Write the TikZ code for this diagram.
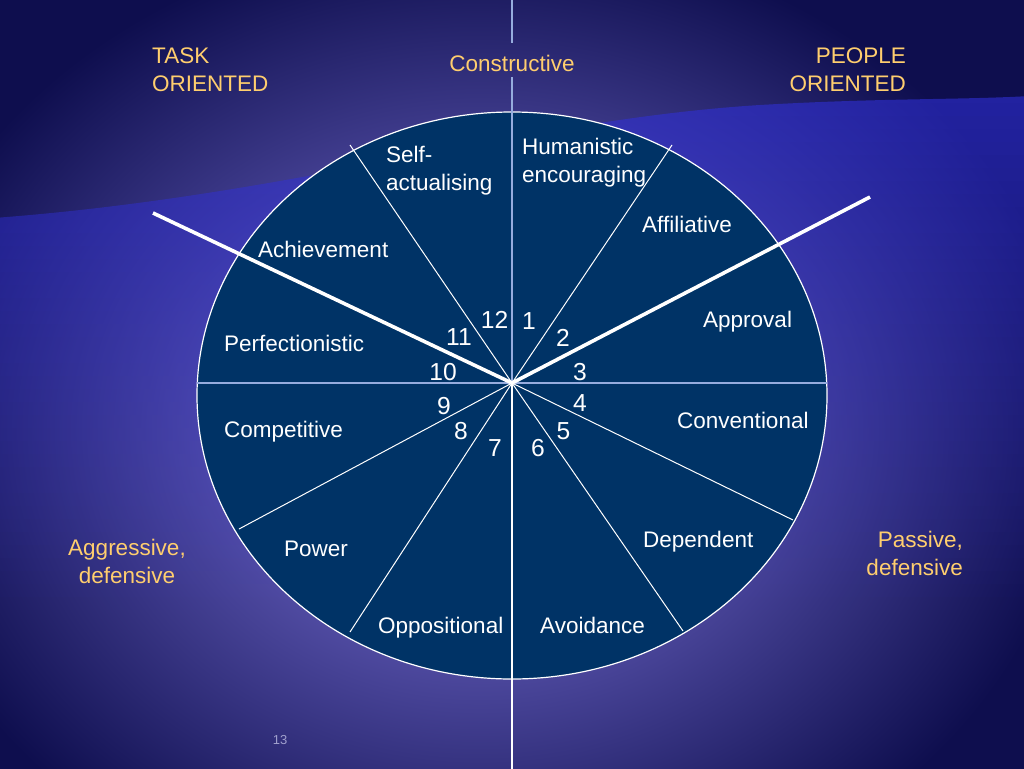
\documentclass[tikz,border=0pt]{standalone}
\usepackage{fontspec}
\setmainfont{Liberation Sans}
\definecolor{bgdark}{RGB}{14,14,78}
\definecolor{bglight}{RGB}{96,90,182}
\definecolor{wave}{RGB}{48,48,215}
\definecolor{wheel}{RGB}{0,51,102}
\definecolor{gold}{RGB}{255,206,110}
\definecolor{axis}{RGB}{150,172,222}
\definecolor{pagenum}{RGB}{160,160,205}
\pgfdeclareradialshading{bgrad}{\pgfpointorigin}{color(0bp)=(bglight); color(8bp)=(bglight); color(25bp)=(bgdark); color(50bp)=(bgdark)}
\begin{document}
\begin{tikzpicture}[x=1pt,y=-1pt,
  lbl/.style={text=white, inner sep=0pt, font=\fontsize{22.5}{28}\selectfont},
  num/.style={text=white, inner sep=0pt, font=\fontsize{24.6}{29}\selectfont},
  cat/.style={text=gold, inner sep=0pt, font=\fontsize{22.5}{28}\selectfont},
  spoke/.style={draw=white, line width=1pt},
  thickspoke/.style={draw=white, line width=3.6pt, line join=round},
  axisline/.style={draw=axis, line width=1.8pt},
  lowaxis/.style={draw=white, line width=2.6pt},
  rim/.style={draw=white, line width=1.2pt},
]
\useasboundingbox (0,0) rectangle (1024,768);
% background (slightly oversized so no edge strip remains)
\fill[bgdark] (-6,-6) rectangle (1030,774);
\begin{scope}
  \clip (-6,-6) rectangle (1030,774);
  \shade[shading=bgrad] (480,430) ellipse (600pt and 500pt);
\end{scope}
% wave band, fading downwards
\begin{scope}
  \clip (-6,218) .. controls (300,195) and (520,120) .. (760,105) .. controls (880,98) and (960,100) .. (1030,96) -- (1030,774) -- (-6,774) -- cycle;
  \foreach \i in {0,...,39} {
    \pgfmathsetmacro{\op}{0.6*(1-\i/40)}
    \fill[wave, fill opacity=\op] (-6,{90+\i*13}) rectangle (1030,{90+(\i+1)*13});
  }
\end{scope}
% wheel
\fill[wheel] (512,395.5) ellipse (315pt and 283.5pt);
% coordinates
\coordinate (O) at (512,383);
\coordinate (L) at (197,383);
\coordinate (R) at (827,383);
\coordinate (Vtop) at (512,-6);
\coordinate (VgapA) at (512,43);
\coordinate (VgapB) at (512,77);
\coordinate (Vbot) at (512,774);
\coordinate (TL) at (153,213);
\coordinate (TR) at (870,197);
\coordinate (sUL) at (350,145);
\coordinate (sUR) at (672,145);
\coordinate (sLL) at (239,529);
\coordinate (sBL) at (350,632);
\coordinate (sBR) at (683,631);
\coordinate (sLR) at (793,520);
% spokes
\draw[spoke] (O) -- (sUL);
\draw[spoke] (O) -- (sUR);
\draw[spoke] (O) -- (sLL);
\draw[spoke] (O) -- (sBL);
\draw[spoke] (O) -- (sBR);
\draw[spoke] (O) -- (sLR);
\draw[rim] (512,395.5) ellipse (315pt and 283.5pt);
\draw[axisline] (L) -- (R);
\draw[axisline] (Vtop) -- (VgapA);
\draw[axisline] (VgapB) -- (O);
\draw[lowaxis] (O) -- (Vbot);
\draw[thickspoke] (TL) -- (O) -- (TR);
% category labels
\node[cat, align=left, anchor=west] (task) at (152,70) {TASK\\ORIENTED};
\node[cat, anchor=base] (constr) at (512,71) {Constructive};
\node[cat, align=right, anchor=east] (people) at (906,70) {PEOPLE\\ORIENTED};
\node[cat, align=center] (aggr) at (127,561) {Aggressive,\\defensive};
\node[cat, align=right, anchor=east] (pass) at (963,553) {Passive,\\defensive};
% style labels
\node[lbl, align=left, anchor=west] (selfact) at (386,171) {Self-\\actualising};
\node[lbl, align=left, anchor=west] (human) at (522,163) {Humanistic\\encouraging};
\node[lbl, anchor=base west] (affil) at (642,232) {Affiliative};
\node[lbl, anchor=base west] (achiev) at (258,257) {Achievement};
\node[lbl, anchor=base west] (approv) at (703,327) {Approval};
\node[lbl, anchor=base west] (perf) at (224,351) {Perfectionistic};
\node[lbl, anchor=base west] (compet) at (224,437) {Competitive};
\node[lbl, anchor=base west] (conv) at (677,428) {Conventional};
\node[lbl, anchor=base west] (power) at (284,556) {Power};
\node[lbl, anchor=base west] (depend) at (643,547) {Dependent};
\node[lbl, anchor=base west] (oppos) at (378,633) {Oppositional};
\node[lbl, anchor=base west] (avoid) at (540,633) {Avoidance};
% numbers
\node[num, anchor=base] (n12) at (494.5,328) {12};
\node[num, anchor=base] (n1) at (529,329) {1};
\node[num, anchor=base] (n11) at (459,345) {11};
\node[num, anchor=base] (n2) at (563,346) {2};
\node[num, anchor=base] (n10) at (443,380) {10};
\node[num, anchor=base] (n3) at (580,380) {3};
\node[num, anchor=base] (n9) at (444,414) {9};
\node[num, anchor=base] (n4) at (580,411) {4};
\node[num, anchor=base] (n8) at (461,439) {8};
\node[num, anchor=base] (n5) at (563.5,439) {5};
\node[num, anchor=base] (n7) at (495,456.5) {7};
\node[num, anchor=base] (n6) at (538,456.5) {6};
% page number
\node[text=pagenum, inner sep=0pt, font=\fontsize{13}{15}\selectfont] (page) at (280,740) {13};
\end{tikzpicture}
\end{document}
